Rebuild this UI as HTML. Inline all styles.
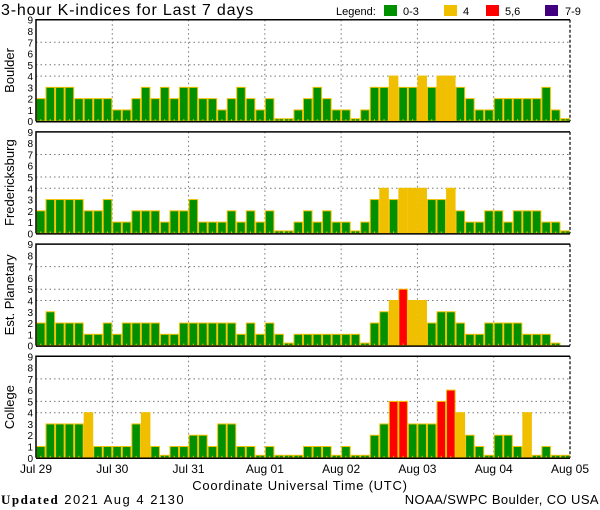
<!DOCTYPE html>
<html><head><meta charset="utf-8"><style>
body{margin:0;background:#fff;width:600px;height:510px;overflow:hidden}
svg{display:block}
text{font-family:"Liberation Sans",sans-serif;fill:#000}
</style></head><body>
<svg id="chart" width="600" height="510" viewBox="0 0 600 510">
<text x="1" y="15" font-size="16" letter-spacing="0.85">3-hour K-indices for Last 7 days</text>
<g font-size="11">
<text x="336" y="15">Legend:</text>
<rect x="384" y="5" width="13" height="11" fill="#009000"/><text x="403" y="15">0-3</text>
<rect x="444" y="5" width="13" height="11" fill="#f0c000"/><text x="463" y="15">4</text>
<rect x="486" y="5" width="13" height="11" fill="#ff0000"/><text x="505" y="15">5,6</text>
<rect x="545" y="5" width="13" height="11" fill="#400080"/><text x="565" y="15">7-9</text>
</g>
<text x="300" y="490" font-size="13" text-anchor="middle" letter-spacing="0.75">Coordinate Universal Time (UTC)</text>
<text x="1" y="504" font-size="13" letter-spacing="1.5"><tspan font-family="Liberation Serif" font-weight="bold">Updated</tspan> 2021 Aug  4 2130</text>
<text x="599" y="504" font-size="13" text-anchor="end" letter-spacing="0.4">NOAA/SWPC Boulder, CO USA</text>
</svg>
<script>
const dayLabels = ["Jul 29","Jul 30","Jul 31","Aug 01","Aug 02","Aug 03","Aug 04","Aug 05"];
const stations = ["Boulder","Fredericksburg","Est. Planetary","College"];
const boulder = [2,3,3,3,2,2,2,2,1,1,2,3,2,3,2,3,3,2,2,1,2,3,2,1,2,0,0,1, 2,3,2,1,1,0,1,3,3,4,3,3,4,3,4,4,3,2,1,1,2,2,2,2,2,3,1,0];
const fredericksburg = [2,3,3,3,3,2,2,3,1,1,2,2,2,1,2,2,3,1,1,1,2,1,2,1,2,0,0,1, 2,1,2,1,1,0,1,3,4,3,4,4,4,3,3,4,2,1,1,2,2,1,2,2,2,1,1,0];
const planetary = [2,3,2,2,2,1,1,2,1,2,2,2,2,1,1,2,2,2,2,2,2,1,2,1,2,1,0,1, 1,1,1,1,1,1,0,2,3,4,5,4,4,2,3,3,2,1,1,2,2,2,2,1,1,1,0,null];
const college = [1,3,3,3,3,4,1,1,1,1,3,4,1,0,1,1,2,2,1,3,3,1,1,0,1,0,0,0, 1,1,1,0,1,0,0,2,3,5,5,3,3,3,5,6,4,2,1,0,2,2,1,4,0,1,0,0];
const yTicks = [0,1,2,3,4,5,6,7,8,9];
const gridLevels = [4,5,7];
const seriesList = [boulder, fredericksburg, planetary, college];

const NS = "http://www.w3.org/2000/svg";
const svg = document.getElementById("chart");
const X0 = 36, X1 = 570, PH = 101.5, TOPS = [19.7,131.9,244.1,356.3];
const nBars = boulder.length;
const bw = (X1 - X0) / nBars;
const xOf = i => X0 + i * (X1 - X0) / nBars;
const xDay = d => X0 + d * (X1 - X0) / (dayLabels.length - 1);
function mk(tag, attrs, parent){const e=document.createElementNS(NS,tag);for(const k in attrs)e.setAttribute(k,attrs[k]);(parent||svg).appendChild(e);return e;}
function color(v){return v<=3?"#009000":v==4?"#f0c000":v<=6?"#ff0000":"#400080";}

stations.forEach((name, p) => {
  const top = TOPS[p], bot = top + PH;
  const yOf = v => bot - v * PH / 9;
  const g = mk("g", {});
  
  
  gridLevels.forEach(l => { const ln = mk("line",{x1:X0,x2:X1,y1:yOf(l),y2:yOf(l),stroke:"#777","stroke-dasharray":"1.5 3"},g);
    
     });
  for (let d=1; d<dayLabels.length-1; d++){ const ln = mk("line",{x1:xDay(d),x2:xDay(d),y1:top,y2:bot,stroke:"#777","stroke-dasharray":"1.5 3"},g);
    
     }
  const data = seriesList[p];
  data.forEach((v,i) => {
    if (v === null) return;
    const x = xOf(i);
    const h = v === 0 ? 2.5 : v * PH / 9;
    const r = mk("rect",{x:x+0.5,y:bot-h,width:bw-1,height:h,fill:color(v),stroke:"#f0c000","stroke-width":1},g);
    
    
    const t = mk("line",{x1:x+bw/2,x2:x+bw/2,y1:bot-2,y2:bot,stroke:"#f0c000"},g);
    
    
  });
  const f1 = mk("path",{d:`M${X0} ${bot} V${top} H${X1}`,fill:"none",stroke:"#000","stroke-width":1.5},g);
  
  
  const f2 = mk("line",{x1:X0,x2:X1,y1:bot+0.5,y2:bot+0.5,stroke:"#000","stroke-width":1.5},g);
  
  
  const f3 = mk("line",{x1:X1,x2:X1,y1:top,y2:bot,stroke:"#000","stroke-width":1.2,"stroke-dasharray":"3 2"},g);
  
  
  yTicks.forEach(v => { const t = mk("text",{x:33,y:yOf(v)+4,"font-size":10,"text-anchor":"end"},g); t.textContent=v;
    
     });
  const yt = mk("text",{x:0,y:0,"font-size":13,"text-anchor":"middle",transform:`translate(14 ${top+PH/2}) rotate(-90)`},g);
  yt.textContent = name;
  
  
});
dayLabels.forEach((d,i) => {
  const t = mk("text",{x:xDay(i),y:473,"font-size":12,"text-anchor":"middle"});
  t.textContent = d;
  
  
});
</script>
</body></html>
